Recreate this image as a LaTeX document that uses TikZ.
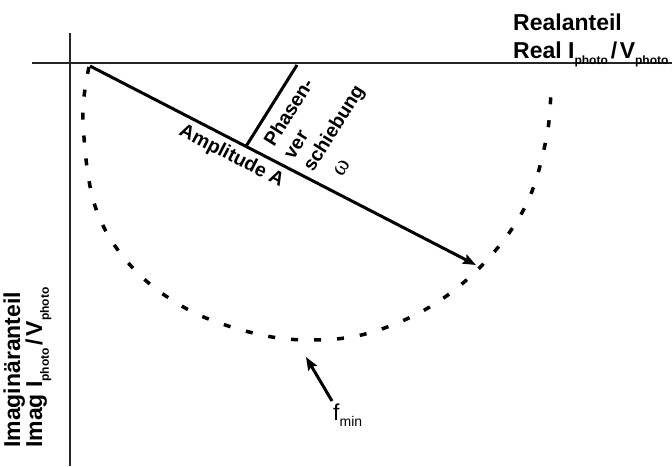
\documentclass[tikz,border=0pt]{standalone}
\usepackage{fontspec}
\setmainfont{Liberation Sans}
\newfontfamily\symfont{Liberation Serif}
\usetikzlibrary{arrows.meta}
\newcommand{\subtx}[1]{\raisebox{-0.3em}{\fontsize{12}{12}\selectfont #1}}
\newcommand{\subrg}[1]{\raisebox{-0.3em}{\fontsize{14}{14}\selectfont #1}}
\begin{document}
\begin{tikzpicture}[x=1pt,y=-1pt,
  axis/.style={line width=1.5pt, black!85},
  vec/.style={line width=3pt, -{Stealth[length=13pt,width=10pt,inset=2pt]}},
  bar/.style={line width=3pt},
  curve/.style={line width=3.5pt, dash pattern=on 7pt off 16pt},
  lab/.style={inner sep=0pt, font=\fontsize{23}{27}\selectfont\bfseries},
  inlab/.style={inner sep=0pt, font=\fontsize{19.5}{23}\selectfont\bfseries}]
\useasboundingbox (0,0) rectangle (672,466);
% axes
\coordinate (hl) at (32,63);
\coordinate (hr) at (672,63);
\coordinate (vt) at (70,33);
\coordinate (vb) at (70,466);
\draw[axis] (hl) -- (hr);
\draw[axis] (vt) -- (vb);
% dashed locus
\draw[curve] plot[smooth, tension=0.6] coordinates {(89,67) (83,120) (95,206) (131,266) (187,309) (253,333) (310,340) (369,333) (433,305) (487,260) (527,203) (547,135) (551,82)};
% amplitude vector
\coordinate (o) at (90,66);
\coordinate (p) at (476,265);
\draw[vec] (o) -- node[pos=0.385, sloped, below=5pt, inlab] (amp) {Amplitude A} (p);
% phase bar
\coordinate (pb) at (246,146.4);
\coordinate (pt) at (297,65);
\draw[bar] (pb) -- (pt);
% phase text
\node[inlab, rotate=58, anchor=base west] (ph1) at (274,148) {Phasen-};
\node[inlab, rotate=58, anchor=base west] (ph2) at (293.5,160.5) {ver};
\node[inlab, rotate=58, anchor=base west] (ph3) at (313,173) {schiebung};
\node[inner sep=0pt, rotate=58, font=\fontsize{24}{24}\selectfont\symfont] (om) at (342,168) {ω};
% axis labels
\node[lab, anchor=base west] (re1) at (513,30) {Realanteil};
\node[lab, anchor=base west] (re2) at (513,58) {Real I\subtx{photo}\hspace{3pt}/\hspace{2.5pt}V\subtx{photo}};
\node[lab, anchor=base west, rotate=90] (im1) at (20,448) {Imaginäranteil};
\node[lab, anchor=base west, rotate=90] (im2) at (42,448) {Imag I\subtx{photo}\hspace{3pt}/\hspace{2.5pt}V\subtx{photo}};
% f_min
\node[inner sep=0pt, anchor=base west, font=\fontsize{23}{23}\selectfont] (fm) at (333,420) {f\subrg{min}};
\coordinate (fa) at (332,401);
\coordinate (fb) at (306,357);
\draw[vec] (fa) -- (fb);
\end{tikzpicture}
\end{document}
